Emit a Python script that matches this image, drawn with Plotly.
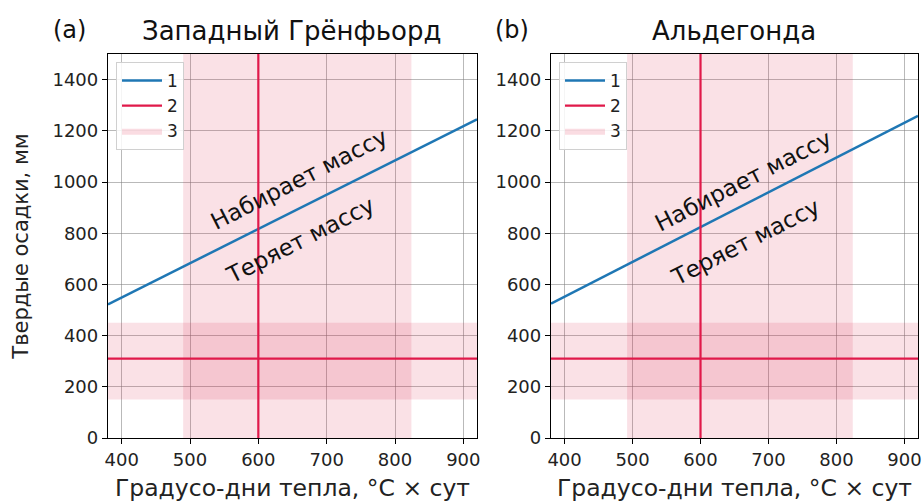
import plotly.graph_objects as go

# ---- data ----
x_range = [380, 920]
y_range = [0, 1500]
x_ticks = [400, 500, 600, 700, 800, 900]
y_ticks = [0, 200, 400, 600, 800, 1000, 1200, 1400]

panels = ["(a)", "(b)"]
titles = ["Западный Грёнфьорд", "Альдегонда"]

# line 1: threshold line (x, y endpoints)
line1_x = [380, 920]
line1_y_a = [522, 1245]
line1_y_b = [525, 1258]

# line 2: mean values
mean_pdd = [600, 600]
mean_snow = [310, 310]

# band 3: ranges
pdd_band_a = [490, 824]
pdd_band_b = [492, 824]
snow_band = [150, 450]

gain_label = "Набирает массу"
loss_label = "Теряет массу"
gain_pos_a = (660, 1010)
loss_pos_a = (662, 772)
gain_pos_b = (662, 1004)
loss_pos_b = (666, 765)

xlabel = "Градусо-дни тепла, °C × сут"
ylabel = "Твердые осадки, мм"

BLUE = "#1f77b4"
RED = "#e0194a"
PINK = "rgba(220,20,60,0.13)"
FONT = "DejaVu Sans"

fig = go.Figure()

datasets = [
    dict(xa="x", ya="y", l1=line1_y_a, band=pdd_band_a, gain=gain_pos_a, loss=loss_pos_a, legend="legend"),
    dict(xa="x2", ya="y2", l1=line1_y_b, band=pdd_band_b, gain=gain_pos_b, loss=loss_pos_b, legend="legend2"),
]

for d in datasets:
    b = d["band"]
    # vertical band
    fig.add_trace(go.Scatter(
        x=[b[0], b[1], b[1], b[0], b[0]], y=[y_range[0], y_range[0], y_range[1], y_range[1], y_range[0]],
        fill="toself", fillcolor=PINK, line=dict(width=0), mode="lines", name="3",
        showlegend=False, hoverinfo="skip",
        xaxis=d["xa"], yaxis=d["ya"], legend=d["legend"]))
    # horizontal band
    fig.add_trace(go.Scatter(
        x=[x_range[0], x_range[1], x_range[1], x_range[0], x_range[0]],
        y=[snow_band[0], snow_band[0], snow_band[1], snow_band[1], snow_band[0]],
        fill="toself", fillcolor=PINK, line=dict(width=0), mode="lines", name="3",
        showlegend=False, hoverinfo="skip",
        xaxis=d["xa"], yaxis=d["ya"], legend=d["legend"]))
    # line 1
    fig.add_trace(go.Scatter(
        x=line1_x, y=d["l1"], mode="lines", line=dict(color=BLUE, width=2.5), name="1",
        xaxis=d["xa"], yaxis=d["ya"], legend=d["legend"], legendrank=1))
    # line 2 (vertical & horizontal)
    fig.add_trace(go.Scatter(
        x=mean_pdd, y=y_range, mode="lines", line=dict(color=RED, width=2.2), name="2",
        xaxis=d["xa"], yaxis=d["ya"], legend=d["legend"], legendrank=2))
    fig.add_trace(go.Scatter(
        x=x_range, y=mean_snow, mode="lines", line=dict(color=RED, width=2.2), name="2",
        showlegend=False, xaxis=d["xa"], yaxis=d["ya"], legend=d["legend"]))
    # legend entry for band
    fig.add_trace(go.Scatter(
        x=[None], y=[None], fill="toself", fillcolor="rgba(220,20,60,0.15)", line=dict(width=0),
        mode="lines", name="3", xaxis=d["xa"], yaxis=d["ya"], legend=d["legend"], legendrank=3))

ax_common = dict(
    showline=True, linecolor="black", linewidth=1.3, mirror=True,
    ticks="outside", ticklen=5, tickcolor="black", tickwidth=1.2,
    showgrid=True, gridcolor="rgba(128,128,128,0.55)", gridwidth=1,
    zeroline=False, tickfont=dict(family=FONT, size=18, color="#222"), automargin=False,
)

legend_common = dict(xanchor="left", yanchor="top",
                     bgcolor="rgba(255,255,255,0.85)", bordercolor="#d0d0d0", borderwidth=1,
                     font=dict(family=FONT, size=17), tracegroupgap=0, itemwidth=40)

fig.update_layout(
    width=923, height=503, margin=dict(l=0, r=0, t=0, b=0),
    plot_bgcolor="white", paper_bgcolor="white",
    font=dict(family=FONT, color="#222"),
    xaxis=dict(ax_common, domain=[108/923, 477/923], range=x_range, tickvals=x_ticks,
               title=dict(text=xlabel, font=dict(size=23.5), standoff=10), anchor="y"),
    yaxis=dict(ax_common, domain=[1-438/503, 1-54/503], range=y_range, tickvals=y_ticks,
               title=dict(text=ylabel, font=dict(size=21), standoff=18), anchor="x"),
    xaxis2=dict(ax_common, domain=[551/923, 918/923], range=x_range, tickvals=x_ticks,
                title=dict(text=xlabel, font=dict(size=23.5), standoff=10), anchor="y2"),
    yaxis2=dict(ax_common, domain=[1-438/503, 1-54/503], range=y_range, tickvals=y_ticks, anchor="x2"),
    legend=dict(legend_common, x=116/923, y=1-62/503),
    legend2=dict(legend_common, x=559/923, y=1-62/503),
    showlegend=True,
)

annotations = []
for i, d in enumerate(datasets):
    xref = d["xa"]
    yref = d["ya"]
    annotations.append(dict(x=d["gain"][0], y=d["gain"][1], xref=xref, yref=yref, text=gain_label,
                            showarrow=False, textangle=-27, font=dict(family=FONT, size=23, color="#111")))
    annotations.append(dict(x=d["loss"][0], y=d["loss"][1], xref=xref, yref=yref, text=loss_label,
                            showarrow=False, textangle=-27, font=dict(family=FONT, size=23, color="#111")))

hdr = dict(xref="paper", yref="paper", showarrow=False, xanchor="center", yanchor="middle")
annotations += [
    dict(hdr, x=69/923, y=1-30/503, text=panels[0], font=dict(family=FONT, size=24, color="#111")),
    dict(hdr, x=512/923, y=1-30/503, text=panels[1], font=dict(family=FONT, size=24, color="#111")),
    dict(hdr, x=292/923, y=1-31/503, text=titles[0], font=dict(family=FONT, size=26, color="#111")),
    dict(hdr, x=734/923, y=1-31/503, text=titles[1], font=dict(family=FONT, size=26, color="#111")),
]
fig.update_layout(annotations=annotations)

fig.write_html("out.html")
